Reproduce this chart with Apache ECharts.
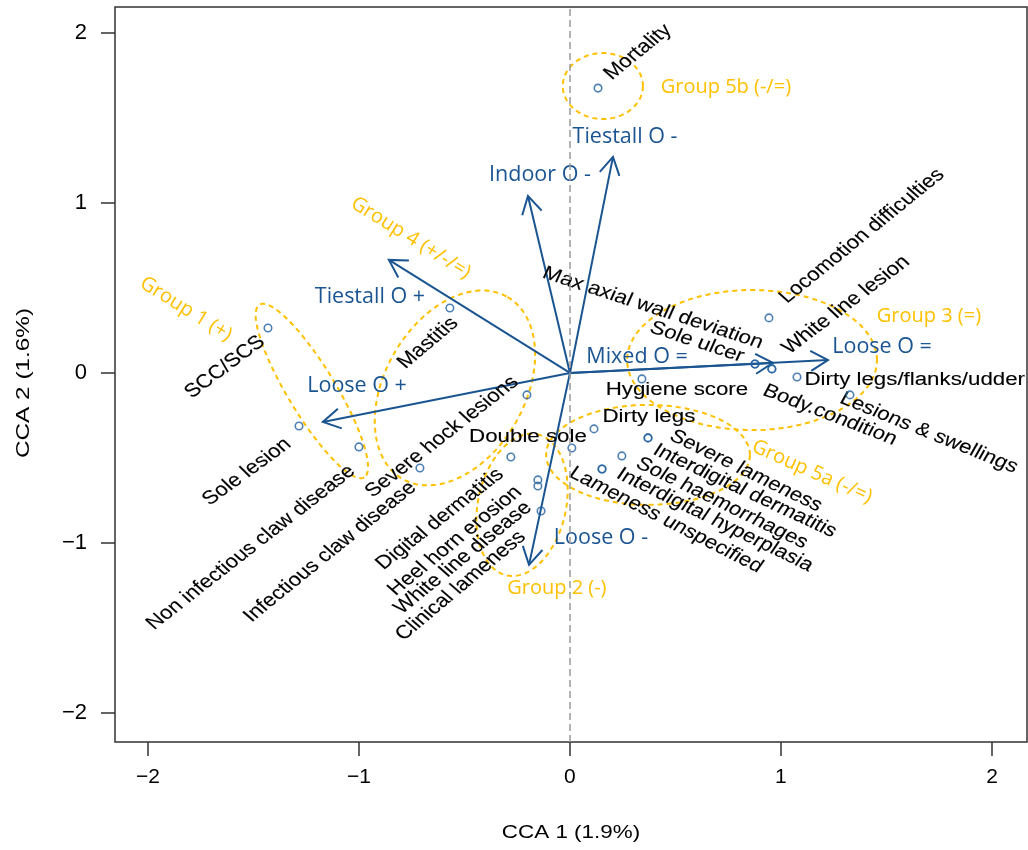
<!DOCTYPE html>
<html>
<head>
<meta charset="utf-8">
<script src="https://cdn.jsdelivr.net/npm/echarts@6/dist/echarts.min.js"></script>
<style>
  html, body { margin: 0; padding: 0; background: #fff; }
  #chart { width: 1028px; height: 850px; }
</style>
</head>
<body>
<div id="chart"></div>
<script>
// ---- Species scores (response variables) on CCA1 / CCA2 ----
const speciesNames = [
  'Mortality', 'Locomotion difficulties', 'Max axial wall deviation', 'Sole ulcer',
  'White line lesion', 'Body.condition', 'Dirty legs/flanks/udder', 'Lesions & swellings',
  'Hygiene score', 'Dirty legs', 'Double sole', 'Severe lameness',
  'Interdigital dermatitis', 'Sole haemorrhages', 'Interdigital hyperplasia', 'Lameness unspecified',
  'SCC/SCS', 'Mastitis', 'Sole lesion', 'Non infectious claw disease',
  'Severe hock lesions', 'Infectious claw disease', 'Digital dermatitis', 'Heel horn erosion',
  'White line disease', 'Clinical lameness'
];
const speciesCCA1 = [
  0.133, 0.943, 0.877, 0.877, 0.957, 0.957, 1.076, 1.327,
  0.341, 0.114, 0.009, 0.370, 0.370, 0.246, 0.152, 0.152,
  -1.431, -0.569, -1.284, -1.000, -0.204, -0.711, -0.280, -0.152,
  -0.152, -0.137
];
const speciesCCA2 = [
  1.676, 0.324, 0.053, 0.053, 0.024, 0.024, -0.024, -0.129,
  -0.035, -0.329, -0.441, -0.382, -0.382, -0.488, -0.565, -0.565,
  0.265, 0.382, -0.312, -0.435, -0.129, -0.559, -0.494, -0.629,
  -0.665, -0.812
];

// ---- Biplot arrows (housing / outdoor access) ----
const envNames = ['Tiestall O -', 'Indoor O -', 'Tiestall O +', 'Loose O +', 'Loose O -', 'Mixed O =', 'Loose O ='];
const envCCA1 = [0.204, -0.199, -0.858, -1.171, -0.194, 0.962, 1.223];
const envCCA2 = [1.271, 1.041, 0.665, -0.288, -1.129, 0.059, 0.076];

// ---- Group ellipses: centre and two conjugate semi-axes (CCA units) ----
const groupNames = ['Group 1 (+)', 'Group 2 (-)', 'Group 3 (=)', 'Group 4 (+/-/=)', 'Group 5a (-/=)', 'Group 5b (-/=)'];
const groupCx = [-1.223, -0.227, 0.863, -0.545, 0.370, 0.156];
const groupCy = [-0.106, -0.776, 0.076, -0.088, -0.482, 1.688];
const groupUx = [0.248, 0.072, 0.592, 0.249, 0.483, 0.190];
const groupUy = [-0.508, 0.415, 0.000, 0.535, 0.000, 0.000];
const groupVx = [-0.097, 0.204, 0.000, 0.287, 0.000, 0.000];
const groupVy = [-0.073, -0.054, 0.412, -0.206, 0.294, 0.194];

const xTicks = [-2, -1, 0, 1, 2];
const yTicks = [-2, -1, 0, 1, 2];

// ---- Label placement (centre in CCA units, angle in degrees) ----
const speciesLabelLayout = [
  [0.322, 1.888, 39], [1.384, 0.806, 39], [0.393, 0.382, -18], [0.602, 0.182, -18],
  [1.308, 0.400, 37], [1.232, -0.247, -21], [1.634, -0.041, 0], [1.701, -0.353, -22],
  [0.507, -0.100, 0], [0.374, -0.259, 0], [-0.199, -0.376, 0], [0.834, -0.576, -26],
  [0.829, -0.694, -25], [0.720, -0.765, -26], [0.687, -0.865, -26], [0.455, -0.865, -27],
  [-1.635, 0.035, 37], [-0.673, 0.176, 40], [-1.531, -0.582, 36], [-1.512, -1.027, 38],
  [-0.607, -0.376, 38], [-1.137, -1.053, 39], [-0.616, -0.859, 38], [-0.545, -0.988, 39],
  [-0.507, -1.088, 39], [-0.517, -1.253, 40]
];
const envLabelLayout = [
  [0.261, 1.388], [-0.142, 1.165], [-0.948, 0.447], [-1.009, -0.076],
  [0.147, -0.971], [0.318, 0.094], [1.479, 0.153]
];
const groupLabelLayout = [
  [-1.820, 0.376, -32], [-0.062, -1.265, 0], [1.701, 0.335, 0],
  [-0.754, 0.794, -32], [1.147, -0.582, -24], [0.739, 1.682, 0]
];

const BLUE = '#1a5592';
const GOLD = '#FFC000';
const INK = '#000000';
const SANS = '"Liberation Sans", Arial, Helvetica, sans-serif';
const OPEN = '"Open Sans", "Noto Sans", sans-serif';
const STRETCH = 1.18; // the plot's own text is drawn slightly wide

const fmtTick = v => (v < 0 ? '\u2212' + Math.abs(v) : String(v));

function wideText(x, y, text, angleDeg, size, color) {
  const a = angleDeg * Math.PI / 180;
  const inner = Math.atan(STRETCH * Math.tan(a));
  return {
    type: 'group', x: x, y: y, scaleX: STRETCH,
    children: [{
      type: 'text', rotation: inner,
      style: { text: text, x: 0, y: 0, align: 'center', verticalAlign: 'middle',
               fontFamily: SANS, fontSize: size, fill: color,
               stroke: color, lineWidth: 0.12 }
    }]
  };
}

const chart = echarts.init(document.getElementById('chart'), null, { renderer: 'canvas' });

const option = {
  animation: false,
  grid: { left: 115, right: 1, top: 7, bottom: 108, show: true, borderColor: '#333', borderWidth: 1.5 },
  xAxis: {
    type: 'value', min: -2.156, max: 2.166,
    axisLine: { show: false, onZero: false },
    splitLine: { show: false },
    axisTick: { show: true, length: 14, customValues: xTicks, lineStyle: { color: '#333', width: 1.5 } },
    axisLabel: { customValues: xTicks, formatter: fmtTick, fontFamily: SANS, fontSize: 21, color: INK, margin: 25 }
  },
  yAxis: {
    type: 'value', min: -2.171, max: 2.153,
    axisLine: { show: false, onZero: false },
    splitLine: { show: false },
    axisTick: { show: true, length: 14, customValues: yTicks, lineStyle: { color: '#333', width: 1.5 } },
    axisLabel: { customValues: yTicks, formatter: fmtTick, fontFamily: SANS, fontSize: 22, color: INK, margin: 28 }
  },
  graphic: [
    {
      type: 'group', x: 571, y: 833, scaleX: STRETCH, silent: true,
      children: [{ type: 'text', style: { text: 'CCA 1 (1.9%)', x: 0, y: 0, align: 'center', verticalAlign: 'middle', fontFamily: SANS, fontSize: 19, fill: INK } }]
    },
    {
      type: 'group', x: 24, y: 383, scaleY: 1.28, silent: true,
      children: [{ type: 'text', rotation: Math.PI / 2, style: { text: 'CCA 2 (1.6%)', x: 0, y: 0, align: 'center', verticalAlign: 'middle', fontFamily: SANS, fontSize: 19, fill: INK } }]
    }
  ],
  series: [
    // dashed reference line at CCA1 = 0
    {
      type: 'line', data: [], silent: true,
      markLine: {
        silent: true, symbol: 'none', label: { show: false },
        lineStyle: { color: '#9a9a9a', width: 1.5, type: [7, 4] },
        data: [{ xAxis: 0 }]
      }
    },
    // group ellipses
    {
      type: 'custom', silent: true,
      data: groupNames.map((n, i) => [groupCx[i], groupCy[i], groupUx[i], groupUy[i], groupVx[i], groupVy[i]]),
      renderItem: function (params, api) {
        const cx = api.value(0), cy = api.value(1);
        const ux = api.value(2), uy = api.value(3), vx = api.value(4), vy = api.value(5);
        const pts = [];
        for (let k = 0; k < 120; k++) {
          const t = k / 120 * Math.PI * 2;
          pts.push(api.coord([cx + ux * Math.cos(t) + vx * Math.sin(t), cy + uy * Math.cos(t) + vy * Math.sin(t)]));
        }
        return { type: 'polygon', shape: { points: pts },
                 style: { fill: 'none', stroke: GOLD, lineWidth: 2, lineDash: [5, 4] } };
      }
    },
    // biplot arrows with open heads
    {
      type: 'custom', silent: true,
      data: envNames.map((n, i) => [envCCA1[i], envCCA2[i]]),
      renderItem: function (params, api) {
        const o = api.coord([0, 0]);
        const t = api.coord([api.value(0), api.value(1)]);
        const ang = Math.atan2(t[1] - o[1], t[0] - o[0]);
        const L = 20, spread = Math.PI / 6;
        const a1 = [t[0] - L * Math.cos(ang - spread), t[1] - L * Math.sin(ang - spread)];
        const a2 = [t[0] - L * Math.cos(ang + spread), t[1] - L * Math.sin(ang + spread)];
        const st = { stroke: BLUE, lineWidth: 2, fill: 'none' };
        return {
          type: 'group',
          children: [
            { type: 'line', shape: { x1: o[0], y1: o[1], x2: t[0], y2: t[1] }, style: st },
            { type: 'polyline', shape: { points: [a1, t, a2] }, style: st }
          ]
        };
      }
    },
    // species points
    {
      type: 'scatter', silent: true, symbol: 'circle', symbolSize: 7.5,
      itemStyle: { color: 'rgba(0,0,0,0)', borderColor: '#2262a0', borderWidth: 1.6 },
      data: speciesNames.map((n, i) => [speciesCCA1[i], speciesCCA2[i]])
    },
    // species labels
    {
      type: 'custom', silent: true,
      data: speciesLabelLayout,
      renderItem: function (params, api) {
        const p = api.coord([api.value(0), api.value(1)]);
        return wideText(p[0], p[1], speciesNames[params.dataIndex], api.value(2), 18.9, INK);
      }
    },
    // arrow labels
    {
      type: 'custom', silent: true,
      data: envLabelLayout,
      renderItem: function (params, api) {
        const p = api.coord([api.value(0), api.value(1)]);
        return { type: 'text', x: p[0], y: p[1],
                 style: { text: envNames[params.dataIndex], x: 0, y: 0, align: 'center', verticalAlign: 'middle',
                          fontFamily: OPEN, fontSize: 21.5, fill: BLUE } };
      }
    },
    // group labels
    {
      type: 'custom', silent: true,
      data: groupLabelLayout,
      renderItem: function (params, api) {
        const p = api.coord([api.value(0), api.value(1)]);
        return { type: 'text', x: p[0], y: p[1], rotation: api.value(2) * Math.PI / 180,
                 style: { text: groupNames[params.dataIndex], x: 0, y: 0, align: 'center', verticalAlign: 'middle',
                          fontFamily: OPEN, fontSize: 20, fill: GOLD } };
      }
    }
  ]
};

chart.setOption(option);
</script>
</body>
</html>
